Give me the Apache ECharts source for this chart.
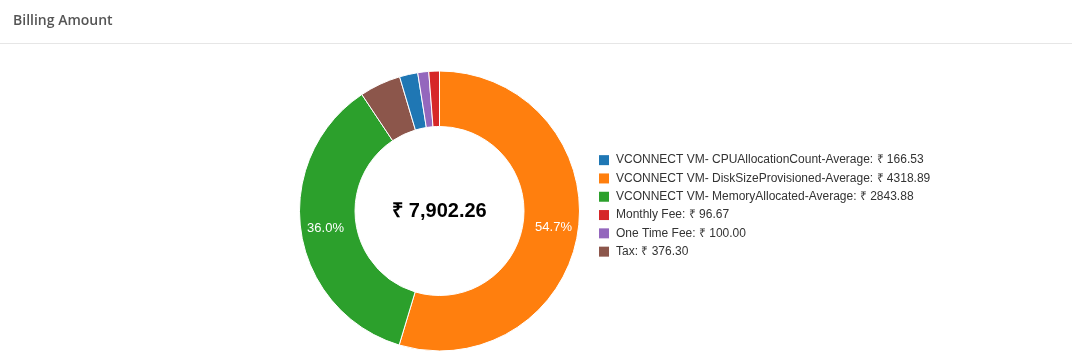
<!DOCTYPE html>
<html>
<head>
<meta charset="utf-8">
<script src="https://cdn.jsdelivr.net/npm/echarts@6/dist/echarts.min.js"></script>
<style>
html,body{margin:0;padding:0;background:#fff;}
#chart{width:1072px;height:362px;}
</style>
</head>
<body>
<div id="chart"></div>
<script>
var titleText = 'Billing Amount';
var categories = [
  'VCONNECT VM- CPUAllocationCount-Average',
  'VCONNECT VM- DiskSizeProvisioned-Average',
  'VCONNECT VM- MemoryAllocated-Average',
  'Monthly Fee',
  'One Time Fee',
  'Tax'
];
var amounts = [166.53, 4318.89, 2843.88, 96.67, 100.00, 376.30];
var colors = ['#1f77b4', '#ff7f0e', '#2ca02c', '#d62728', '#9467bd', '#8c564b'];
var totalLabel = '₹ 7,902.26';

var total = amounts.reduce(function(a, b){ return a + b; }, 0);
var items = categories.map(function(c, i){
  return { name: c, value: amounts[i], itemStyle: { color: colors[i] } };
});
var sorted = items.slice().sort(function(a, b){ return b.value - a.value; });
var valueByName = {};
items.forEach(function(it){ valueByName[it.name] = it.value; });

var chart = echarts.init(document.getElementById('chart'), null, { renderer: 'canvas' });
chart.setOption({
  animation: false,
  title: {
    text: titleText,
    left: 8, top: 9,
    textStyle: { fontFamily: 'Open Sans', fontSize: 14, fontWeight: 600, color: '#555' }
  },
  graphic: [
    { type: 'line', shape: { x1: 0, y1: 43.5, x2: 1072, y2: 43.5 }, style: { stroke: '#e6e6e6', lineWidth: 1 } },
    { type: 'text', position: [439.5, 211], style: { text: totalLabel, font: 'bold 20px "Liberation Sans", Arial, sans-serif', fill: '#000', textAlign: 'center', textVerticalAlign: 'middle' } }
  ],
  legend: {
    orient: 'vertical',
    left: 594, top: 149,
    itemWidth: 10, itemHeight: 10, itemGap: 6,
    icon: 'rect',
    itemStyle: { borderWidth: 0 },
    data: categories,
    textStyle: { fontFamily: '"Liberation Sans", Arial, sans-serif', fontSize: 12, color: '#333', lineHeight: 12.3, padding: [0, 0, 0, 2] },
    formatter: function(name){ return name + ': ₹ ' + valueByName[name].toFixed(2); }
  },
  series: [{
    type: 'pie',
    center: [439.5, 211],
    radius: [84.5, 140],
    startAngle: 90,
    clockwise: true,
    avoidLabelOverlap: false,
    itemStyle: { borderColor: '#fff', borderWidth: 1 },
    label: {
      show: true,
      position: 'inside',
      color: '#fff',
      fontSize: 13,
      fontFamily: '"Liberation Sans", Arial, sans-serif',
      formatter: function(p){
        var pct = p.value / total * 100;
        return pct >= 5 ? pct.toFixed(1) + '%' : '';
      }
    },
    labelLine: { show: false },
    emphasis: { disabled: true },
    data: sorted
  }]
});
</script>
</body>
</html>
